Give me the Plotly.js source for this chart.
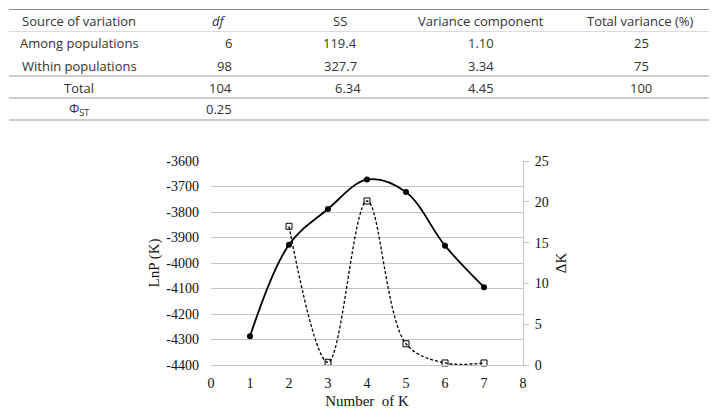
<!DOCTYPE html>
<html>
<head>
<meta charset="utf-8">
<script src="https://cdn.plot.ly/plotly-3.0.1.min.js"></script>
<style>
  html, body { margin: 0; padding: 0; background: #fff; }
  #chart { width: 718px; height: 412px; }
</style>
</head>
<body>
<div id="chart"></div>
<script>
// ---- Chart data ----
const kValues = [1, 2, 3, 4, 5, 6, 7];
const lnP = [-4287, -3928, -3788, -3673, -3722, -3932, -4095];
const deltaKx = [2, 3, 4, 5, 6, 7];
const deltaK = [17.0, 0.33, 20.1, 2.6, 0.25, 0.25];

// ---- Tick labels ----
const lnPTickVals = [-4400, -4300, -4200, -4100, -4000, -3900, -3800, -3700, -3600];
const lnPTickText = ["-4400", "-4300", "-4200", "-4100", "-4000", "-3900", "-3800", "-3700", "-3600"];

// ---- Table data ----
const tableHeaders = ["Source of variation", "<i>df</i>", "SS", "Variance component", "Total variance (%)"];
const rowSource = ["Among populations", "Within populations", "Total", "Φ<sub>ST</sub>"];
const rowDf = ["6", "98", "104", "0.25"];
const rowSS = ["119.4", "327.7", "6.34", ""];
const rowVar = ["1.10", "3.34", "4.45", ""];
const rowTotal = ["25", "75", "100", ""];

// ---- pixel -> paper helpers (plot area: x 211..523, y 161..365) ----
const L = 211, R = 523, T = 161, B = 365;
const px = x => (x - L) / (R - L);
const py = y => (B - y) / (B - T);

const tfont = { family: "Open Sans, Noto Sans, sans-serif", size: 13, color: "#333" };
const annotations = [];
function addText(text, x, y, anchor) {
  annotations.push({
    text: text, xref: "paper", yref: "paper", x: px(x), y: py(y),
    xanchor: anchor || "center", yanchor: "middle", showarrow: false, font: tfont
  });
}
const headerX = [79, 219, 340, 481, 640];
tableHeaders.forEach((h, i) => addText(h, headerX[i], 21));
const rowY = [43, 66, 88, 109];
rowSource.forEach((t, i) => addText(t, 79, rowY[i]));
rowDf.forEach((t, i) => addText(t, 234, rowY[i], "right"));
const ssX = [340, 340, 348, 340];
rowSS.forEach((t, i) => { if (t) addText(t, ssX[i], rowY[i]); });
rowVar.forEach((t, i) => { if (t) addText(t, 481, rowY[i]); });
rowTotal.forEach((t, i) => { if (t) addText(t, 641, rowY[i]); });

const shapes = [];
function hline(y, color, w) {
  shapes.push({ type: "line", xref: "paper", yref: "paper",
    x0: px(9), x1: px(709), y0: py(y), y1: py(y),
    line: { color: color, width: w } });
}
hline(9.5, "#8a8a8a", 1.2);
hline(31.5, "#dcdcdc", 1);
hline(76, "#9a9a9a", 1.2);
hline(98, "#9a9a9a", 1.2);
hline(120, "#9a9a9a", 1.2);

const serif = "Liberation Serif, Times New Roman, serif";
const gridColor = "#c4c4c4";
const tickFont = { family: serif, size: 14, color: "#111" };
const titleFont = { family: serif, size: 15, color: "#111" };

const traces = [
  {
    x: kValues, y: lnP, type: "scatter", mode: "lines+markers",
    line: { color: "#000", width: 1.8, shape: "spline", smoothing: 1 },
    marker: { symbol: "circle", size: 6, color: "#000" },
    yaxis: "y", cliponaxis: false, showlegend: false
  },
  {
    x: deltaKx, y: deltaK, type: "scatter", mode: "lines+markers",
    line: { color: "#000", width: 1.3, dash: "3px,2px", shape: "spline", smoothing: 1 },
    marker: { symbol: "square-open", size: 6, color: "#000", line: { width: 1 } },
    yaxis: "y2", cliponaxis: false, showlegend: false
  }
];

const layout = {
  width: 718, height: 412,
  margin: { l: L, r: 718 - R, t: T, b: 412 - B, pad: 0 },
  paper_bgcolor: "#fff", plot_bgcolor: "#fff",
  showlegend: false,
  xaxis: {
    range: [0, 8], dtick: 1, tick0: 0, showgrid: false, zeroline: false,
    showline: true, linecolor: gridColor, linewidth: 1, ticks: "",
    tickfont: tickFont, ticklabelstandoff: 5,
    title: { text: "Number  of K", font: titleFont, standoff: 5 }
  },
  yaxis: {
    range: [-4400, -3600], tickmode: "array", tickvals: lnPTickVals, ticktext: lnPTickText,
    showgrid: true, gridcolor: gridColor,
    gridwidth: 1, zeroline: false, showline: false, ticks: "",
    tickfont: tickFont, ticklabelstandoff: 11,
    title: { text: "LnP (K)", font: titleFont, standoff: 3 }
  },
  yaxis2: {
    overlaying: "y", side: "right", range: [0, 25], dtick: 5, tick0: 0,
    showgrid: false, zeroline: false, showline: true, linecolor: gridColor, linewidth: 1,
    ticks: "outside", ticklen: 5, tickcolor: gridColor, tickwidth: 1,
    tickfont: tickFont, ticklabelstandoff: 3,
    title: { text: "ΔK", font: titleFont, standoff: 7 }
  },
  annotations: annotations,
  shapes: shapes
};

Plotly.newPlot("chart", traces, layout, { displayModeBar: false, staticPlot: true });
</script>
</body>
</html>
